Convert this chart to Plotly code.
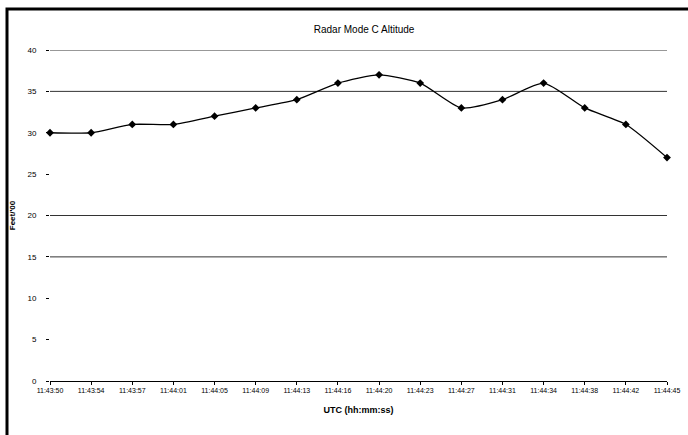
import plotly.graph_objects as go

times = ["11:43:50", "11:43:54", "11:43:57", "11:44:01", "11:44:05", "11:44:09",
         "11:44:13", "11:44:16", "11:44:20", "11:44:23", "11:44:27", "11:44:31",
         "11:44:34", "11:44:38", "11:44:42", "11:44:45"]
altitude = [30, 30, 31, 31, 32, 33, 34, 36, 37, 36, 33, 34, 36, 33, 31, 27]
y_ticks = [0, 5, 10, 15, 20, 25, 30, 35, 40]
grid_levels = [40, 35, 20, 15]

W, H = 688, 435
L, R, T, B = 50, 21, 50, 54
pw, ph = W - L - R, H - T - B

fig = go.Figure()
fig.add_trace(go.Scatter(
    x=list(range(len(times))), y=altitude, mode="lines+markers",
    line=dict(color="black", width=1.3, shape="spline", smoothing=0.6),
    marker=dict(symbol="diamond", size=6, color="black"),
    cliponaxis=False, showlegend=False,
))

shapes = []
for g in grid_levels:
    shapes.append(dict(type="line", xref="paper", yref="y", x0=0, x1=1, y0=g, y1=g,
                       line=dict(color="#333333", width=1), layer="below"))
# outer frame
shapes.append(dict(type="rect", xref="paper", yref="paper",
                   x0=(7 - L) / pw, x1=(720 - L) / pw,
                   y0=-(470 - (H - B)) / ph, y1=1 + (T - 9) / ph,
                   line=dict(color="black", width=3)))

fig.update_layout(
    width=W, height=H,
    margin=dict(l=L, r=R, t=T, b=B, autoexpand=False),
    paper_bgcolor="white", plot_bgcolor="white",
    font=dict(family="Liberation Sans, Arial, sans-serif", color="black", size=8),
    title=dict(text="Radar Mode C Altitude", x=0.509, xanchor="center",
               xref="paper", yref="container", y=1 - 29 / H,
               yanchor="middle", font=dict(size=10), automargin=False),
    shapes=shapes,
    xaxis=dict(
        range=[0, len(times) - 1], tickmode="array",
        tickvals=list(range(len(times))), ticktext=times,
        showgrid=False, zeroline=False, showline=True, linecolor="black", linewidth=1,
        ticks="outside", ticklen=3, tickcolor="black", tickangle=0,
        tickfont=dict(size=7, color="black"), automargin=False,
        title=dict(text="<b>UTC (hh:mm:ss)</b>", font=dict(size=9), standoff=13),
    ),
    yaxis=dict(
        range=[0, 40], tickmode="array", tickvals=y_ticks,
        showgrid=False, zeroline=False, showline=False,
        ticks="outside", ticklen=3, tickcolor="black", ticklabelstandoff=8,
        tickfont=dict(size=8), automargin=False,
        title=dict(text="<b>Feet/'00</b>", font=dict(size=8), standoff=10),
    ),
)

fig.write_html("out.html", config={"displayModeBar": False},
               post_script="document.body.style.margin='0';")
